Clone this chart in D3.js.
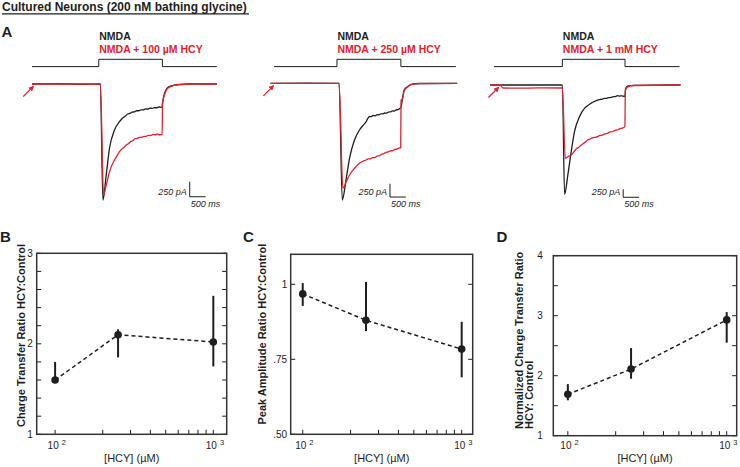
<!DOCTYPE html>
<html>
<head>
<meta charset="utf-8">
<script src="https://cdn.jsdelivr.net/npm/d3@7"></script>
<style>
body { margin: 0; background: #fff; }
svg { font-family: "Liberation Sans", Arial, sans-serif; }
</style>
</head>
<body>
<div id="chart"></div>
<script>
// ---- panel A: whole-cell currents, [time ms, current pA] ----
var hcyLabels = ["NMDA + 100 \u00b5M HCY", "NMDA + 250 \u00b5M HCY", "NMDA + 1 mM HCY"];
var stimOn = [2100, 1980, 2150];
var stimOff = [4100, 3990, 4120];
var stimEnd = [5812, 5719, 5834];
var scaleBarAt = [[4959, -1879], [3647, -2138], [4063, -3509]];
var arrowAt = [40, -20, 140];

var trace1Black = [[0,0],[800,4],[1600,-4],[2150,0],[2230,-1934],[2334,-1517],[2438,-1067],[2594,-767],[2750,-628],
  [2800,-596],[2870,-560],[2940,-534],[3010,-500],[3080,-490],[3150,-468],[3220,-466],[3290,-446],[3360,-446],
  [3430,-431],[3500,-432],[3570,-415],[3640,-418],[3710,-403],[3780,-406],[3850,-394],[3920,-398],[3990,-383],
  [4060,-388],[4094,-378],[4103,-322],[4188,-128],[4259,-62],[4416,-28],[4625,-8],[5000,0],[5812,0]];
var trace1Red = [[0,0],[2150,0],[2250,-1850],[2334,-1684],[2438,-1462],[2594,-1267],[2680,-1190],[2750,-1128],
  [2820,-1085],[2890,-1058],[2959,-1017],[3030,-995],[3100,-960],[3170,-945],[3240,-912],[3310,-908],[3380,-888],
  [3450,-890],[3520,-872],[3590,-872],[3660,-855],[3730,-860],[3800,-842],[3870,-848],[3940,-832],[4010,-846],
  [4080,-838],[4094,-850],[4105,-322],[4188,-150],[4259,-75],[4406,-33],[4625,-10],[5000,0],[5812,0]];

var trace2Black = [[-110,0],[1000,4],[2047,0],[2147,-2194],[2272,-1786],[2375,-1410],[2531,-1066],[2688,-878],
  [2800,-790],[2897,-722],[2950,-660],[3000,-628],[3060,-625],[3120,-605],[3180,-610],[3240,-590],[3300,-592],
  [3360,-575],[3420,-575],[3480,-558],[3540,-560],[3600,-540],[3660,-538],[3720,-520],[3780,-522],[3840,-500],
  [3900,-495],[3960,-470],[3991,-455],[4041,-282],[4094,-126],[4197,-64],[4313,-19],[4563,-4],[5760,0]];
var trace2Red = [[-110,0],[2047,0],[2166,-1974],[2272,-1850],[2375,-1724],[2531,-1598],[2688,-1504],[2797,-1465],
  [2897,-1442],[2960,-1422],[3030,-1418],[3100,-1396],[3170,-1396],[3240,-1368],[3310,-1360],[3380,-1335],
  [3450,-1322],[3520,-1300],[3590,-1290],[3660,-1270],[3730,-1265],[3800,-1244],[3870,-1236],[3940,-1215],
  [3985,-1213],[3995,-314],[4041,-295],[4094,-145],[4197,-70],[4313,-23],[4563,-6],[5760,0]];

var trace3Black = [[-120,0],[2150,0],[2219,-3416],[2322,-2813],[2428,-2084],[2531,-1459],[2688,-991],[2844,-728],
  [2950,-640],[3053,-572],[3120,-530],[3190,-500],[3259,-469],[3330,-455],[3400,-440],[3470,-420],[3540,-415],
  [3610,-395],[3680,-388],[3750,-365],[3820,-360],[3884,-334],[3950,-345],[4020,-340],[4090,-355],[4116,-359],
  [4141,-103],[4219,-31],[4406,-9],[5866,0]];
var trace3Red = [[-120,0],[188,0],[281,-94],[800,-100],[1400,-90],[2150,-94],[2241,-2291],[2322,-2241],[2428,-2188],
  [2531,-2063],[2600,-1985],[2660,-1950],[2741,-1875],[2800,-1835],[2870,-1785],[2947,-1719],[3020,-1690],
  [3090,-1650],[3160,-1640],[3259,-1616],[3330,-1575],[3400,-1570],[3480,-1525],[3572,-1509],[3650,-1465],
  [3720,-1460],[3800,-1420],[3884,-1406],[3960,-1360],[4040,-1350],[4116,-1303],[4131,-156],[4219,-53],
  [4406,-16],[5866,0]];

// ---- panels B-D: ratio vs [HCY] ----
var concentrations = [100, 250, 1000];
var chargeRatio = [1.6, 2.1, 2.02], chargeLow = [1.58, 1.85, 1.75], chargeHigh = [1.8, 2.16, 2.53];
var peakRatio = [0.968, 0.88, 0.784], peakLow = [0.928, 0.844, 0.69], peakHigh = [1.004, 1.008, 0.875];
var normRatio = [1.69, 2.11, 2.93], normLow = [1.59, 1.95, 2.55], normHigh = [1.86, 2.46, 3.06];
var minorTicks = [200, 300, 400, 500, 600, 700, 800, 900];
var majorTicks = [100, 1000];

var red = "#e8202a", ink = "#1e1e1e";

var svg = d3.select("#chart").append("svg")
  .attr("width", 740)
  .attr("height", 467);

// header
svg.append("text").attr("x", 2).attr("y", 10.5)
  .attr("font-size", 12).attr("font-weight", "bold").attr("fill", ink)
  .text("Cultured Neurons (200 nM bathing glycine)");
svg.append("line").attr("x1", 2).attr("x2", 249).attr("y1", 13.8).attr("y2", 13.8)
  .attr("stroke", ink).attr("stroke-width", 1.2);
svg.append("text").attr("x", 1.5).attr("y", 36.5)
  .attr("font-size", 15).attr("font-weight", "bold").attr("fill", ink).text("A");

svg.append("defs").append("marker")
  .attr("id", "arrowhead")
  .attr("viewBox", "0 0 10 10")
  .attr("refX", 8).attr("refY", 5)
  .attr("markerWidth", 4.5).attr("markerHeight", 4.5)
  .attr("orient", "auto")
  .append("path").attr("d", "M0,0L10,5L0,10z").attr("fill", red);

var traceSets = [[trace1Black, trace1Red], [trace2Black, trace2Red], [trace3Black, trace3Red]];
var tracePanels = [
  { x0: 32, base: 84, bar: 15 },
  { x0: 274, base: 83.3, bar: 13.3 },
  { x0: 494, base: 85, bar: 8 }
];

tracePanels.forEach(function (p, i) {
  var x = d3.scaleLinear().domain([0, 500]).range([p.x0, p.x0 + 15.9]);
  var y = d3.scaleLinear().domain([0, -250]).range([p.base, p.base + p.bar]);
  var g = svg.append("g");

  // solution application bar
  var lo = 66.6, hi = 59.3;
  var stim = [[0, lo], [stimOn[i], lo], [stimOn[i], hi], [stimOff[i], hi], [stimOff[i], lo], [stimEnd[i], lo]];
  g.append("path")
    .attr("d", d3.line().x(function (d) { return x(d[0]); }).y(function (d) { return d[1]; })(stim))
    .attr("fill", "none").attr("stroke", ink).attr("stroke-width", 1);

  g.append("text").attr("x", x(stimOn[i]) + 0.5).attr("y", 39.5)
    .attr("font-size", 10.5).attr("font-weight", "bold").attr("fill", ink).text("NMDA");
  g.append("text").attr("x", x(stimOn[i]) + 0.5).attr("y", 52.5)
    .attr("font-size", 10.5).attr("font-weight", "bold").attr("fill", red).text(hcyLabels[i]);

  var line = d3.line()
    .curve(d3.curveMonotoneX)
    .x(function (d) { return x(d[0]); })
    .y(function (d) { return y(d[1]); });
  g.append("path").attr("d", line(traceSets[i][0]))
    .attr("fill", "none").attr("stroke", ink).attr("stroke-width", 1.3).attr("stroke-linejoin", "round");
  g.append("path").attr("d", line(traceSets[i][1]))
    .attr("fill", "none").attr("stroke", red).attr("stroke-width", 1.3).attr("stroke-linejoin", "round");

  // arrow pointing to the baseline
  var ax = x(arrowAt[i]), ay = y(0) + 2.5;
  g.append("line").attr("x1", ax - 10).attr("y1", ay + 10).attr("x2", ax).attr("y2", ay)
    .attr("stroke", red).attr("stroke-width", 1.2).attr("marker-end", "url(#arrowhead)");

  // scale bars
  var cx = x(scaleBarAt[i][0]), cy = y(scaleBarAt[i][1]);
  g.append("path")
    .attr("d", "M" + cx + "," + y(scaleBarAt[i][1] + 250) + "V" + cy + "H" + x(scaleBarAt[i][0] + 500))
    .attr("fill", "none").attr("stroke", ink).attr("stroke-width", 1);
  g.append("text").attr("x", cx - 3).attr("y", cy - 2).attr("text-anchor", "end")
    .attr("font-size", 9).attr("font-style", "italic").attr("fill", ink).text("250 pA");
  g.append("text").attr("x", cx + 1).attr("y", cy + 10)
    .attr("font-size", 9).attr("font-style", "italic").attr("fill", ink).text("500 ms");
});

// ---- bottom panels ----
var fmtDot = function (v) { return v === 1 ? "1" : d3.format(".2f")(v).replace(/^0/, ""); };
var bottomPanels = [
  { letter: "B", lx: 0, left: 36.7, right: 226.7, top: 253.3, bottom: 434.3, xDomain: [76.5, 1215],
    yDomain: [1, 3], yTicks: d3.range(1, 3.01, 0.2), yLabels: [1, 2, 3], fmt: d3.format("d"), gap: 4,
    mean: chargeRatio, low: chargeLow, high: chargeHigh,
    titles: ["Charge Transfer Ratio HCY:Control"], titleX: [24.5], titleY: 427 },
  { letter: "C", lx: 243, left: 290.7, right: 472.7, top: 254.3, bottom: 434.3, xDomain: [84, 1173],
    yDomain: [0.5, 1.1], yTicks: [0.5, 0.75, 1], yLabels: [0.5, 0.75, 1], fmt: fmtDot, gap: 3.5,
    mean: peakRatio, low: peakLow, high: peakHigh,
    titles: ["Peak Amplitude Ratio HCY:Control"], titleX: [266], titleY: 424.5 },
  { letter: "D", lx: 496.5, left: 553.3, right: 736.7, top: 255.7, bottom: 435.7, xDomain: [81, 1156],
    yDomain: [1, 4], yTicks: d3.range(1, 4.01, 0.5), yLabels: [1, 2, 3, 4], fmt: d3.format("d"), gap: 10.5,
    mean: normRatio, low: normLow, high: normHigh,
    titles: ["Normalized Charge Transfer Ratio", "HCY: Control"], titleX: [523, 533], titleY: 429 }
];

bottomPanels.forEach(function (p) {
  var x = d3.scaleLog().domain(p.xDomain).range([p.left, p.right]);
  var y = d3.scaleLinear().domain(p.yDomain).range([p.bottom, p.top]);
  var g = svg.append("g");

  svg.append("text").attr("x", p.lx).attr("y", 242)
    .attr("font-size", 15).attr("font-weight", "bold").attr("fill", ink).text(p.letter);

  // inward ticks on left, right and bottom
  var tick = 4.5;
  g.selectAll(".yl").data(p.yTicks).enter().append("line")
    .attr("x1", p.left).attr("x2", p.left + tick)
    .attr("y1", function (d) { return y(d); }).attr("y2", function (d) { return y(d); })
    .attr("stroke", ink).attr("stroke-width", 1);
  g.selectAll(".yr").data(p.yTicks).enter().append("line")
    .attr("x1", p.right).attr("x2", p.right - tick)
    .attr("y1", function (d) { return y(d); }).attr("y2", function (d) { return y(d); })
    .attr("stroke", ink).attr("stroke-width", 1);
  g.selectAll(".xt").data(majorTicks.concat(minorTicks)).enter().append("line")
    .attr("x1", function (d) { return x(d); }).attr("x2", function (d) { return x(d); })
    .attr("y1", p.bottom).attr("y2", p.bottom - tick)
    .attr("stroke", ink).attr("stroke-width", 1);

  g.append("rect")
    .attr("x", p.left).attr("y", p.top)
    .attr("width", p.right - p.left).attr("height", p.bottom - p.top)
    .attr("fill", "none").attr("stroke", "#333").attr("stroke-width", 1.5);

  g.selectAll(".ylab").data(p.yLabels).enter().append("text")
    .attr("x", p.left - p.gap).attr("y", function (d) { return y(d) + 3.5; })
    .attr("text-anchor", "end").attr("font-size", 10).attr("fill", ink)
    .text(p.fmt);

  var xl = g.selectAll(".xlab").data(majorTicks).enter().append("text")
    .attr("x", function (d) { return x(d) - 7.5; }).attr("y", 449)
    .attr("font-size", 10).attr("fill", ink);
  xl.append("tspan").text("10");
  xl.append("tspan").attr("dx", 3).attr("dy", -4).attr("font-size", 7.5)
    .text(function (d) { return Math.round(Math.log10(d)); });

  g.append("text").attr("x", (p.left + p.right) / 2).attr("y", 461.5)
    .attr("text-anchor", "middle").attr("font-size", 11).attr("fill", ink)
    .text("[HCY] (\u00b5M)");

  p.titles.forEach(function (t, k) {
    g.append("text")
      .attr("transform", "translate(" + p.titleX[k] + "," + p.titleY + ") rotate(-90)")
      .attr("font-size", 11).attr("font-weight", "bold").attr("fill", ink)
      .text(t);
  });

  var pts = concentrations.map(function (c, k) {
    return { c: c, m: p.mean[k], lo: p.low[k], hi: p.high[k] };
  });

  g.append("path")
    .attr("d", d3.line().x(function (d) { return x(d.c); }).y(function (d) { return y(d.m); })(pts))
    .attr("fill", "none").attr("stroke", ink).attr("stroke-width", 1.5).attr("stroke-dasharray", "4,3");

  g.selectAll(".err").data(pts).enter().append("line")
    .attr("x1", function (d) { return x(d.c); }).attr("x2", function (d) { return x(d.c); })
    .attr("y1", function (d) { return y(d.lo); }).attr("y2", function (d) { return y(d.hi); })
    .attr("stroke", ink).attr("stroke-width", 2);

  g.selectAll(".dot").data(pts).enter().append("circle")
    .attr("cx", function (d) { return x(d.c); }).attr("cy", function (d) { return y(d.m); })
    .attr("r", 3.8).attr("fill", ink);
});
</script>
</body>
</html>
